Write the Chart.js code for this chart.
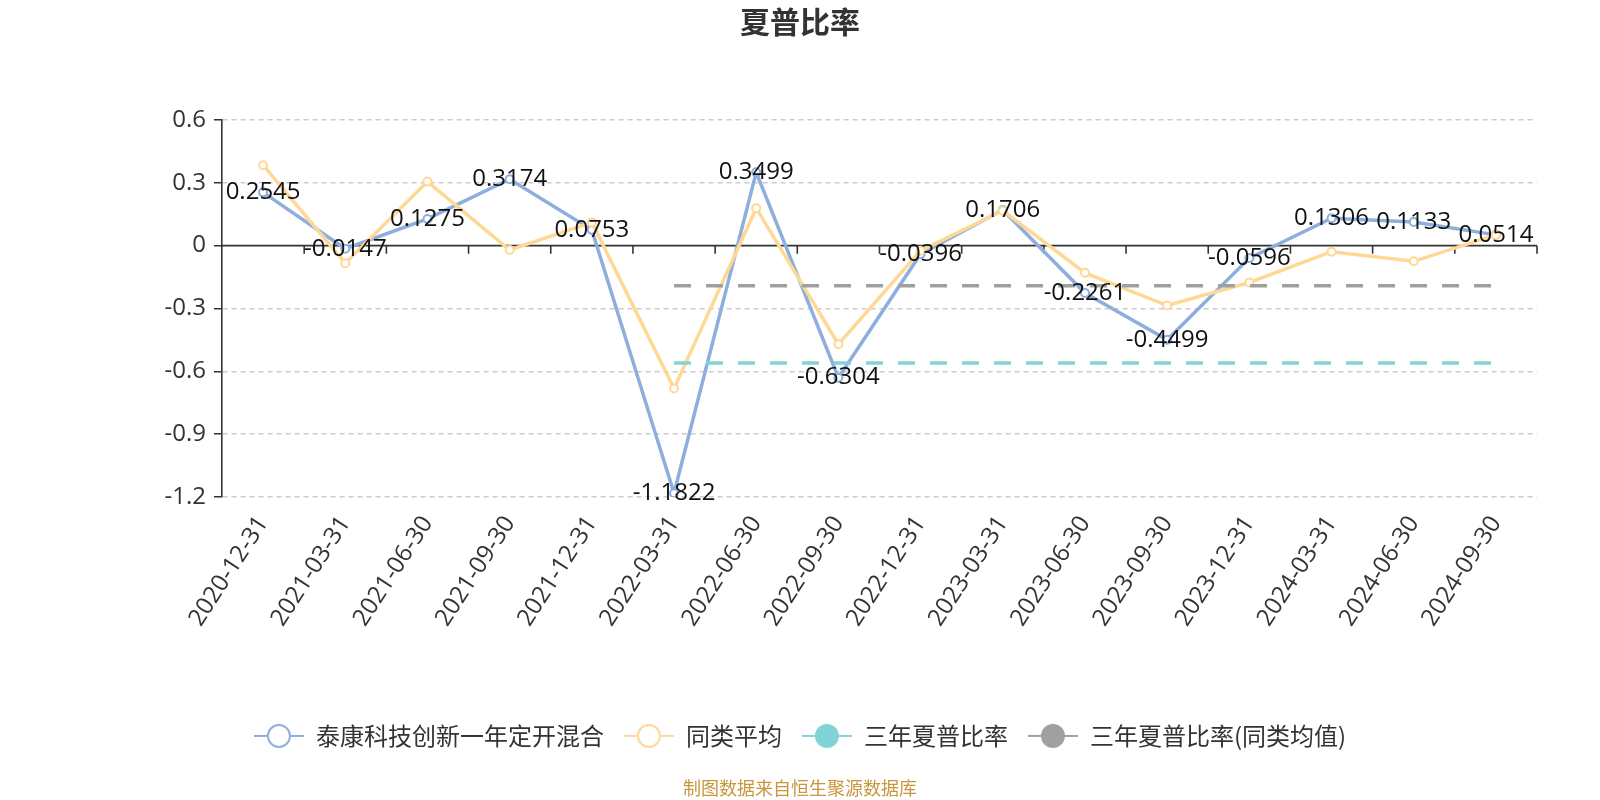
<!DOCTYPE html>
<html>
<head>
<meta charset="utf-8">
<script src="https://cdn.jsdelivr.net/npm/chart.js@4.4.0/dist/chart.umd.min.js"></script>
<style>
html,body{margin:0;padding:0;background:#fff;}
#wrap{width:1600px;height:800px;}
</style>
</head>
<body>
<div id="wrap"><canvas id="c" width="1600" height="800"></canvas></div>
<script>
// ---- data ----
const categories = ['2020-12-31','2021-03-31','2021-06-30','2021-09-30','2021-12-31','2022-03-31','2022-06-30','2022-09-30','2022-12-31','2023-03-31','2023-06-30','2023-09-30','2023-12-31','2024-03-31','2024-06-30','2024-09-30'];
const fundValues = [0.2545, -0.0147, 0.1275, 0.3174, 0.0753, -1.1822, 0.3499, -0.6304, -0.0396, 0.1706, -0.2261, -0.4499, -0.0596, 0.1306, 0.1133, 0.0514];
const peerValues = [0.384, -0.084, 0.306, -0.021, 0.111, -0.682, 0.179, -0.471, -0.024, 0.167, -0.130, -0.286, -0.176, -0.029, -0.075, 0.051];
const fund3YValues = [null, null, null, null, null, -0.56, -0.56, -0.56, -0.56, -0.56, -0.56, -0.56, -0.56, -0.56, -0.56, -0.56];
const peer3YValues = [null, null, null, null, null, -0.192, -0.192, -0.192, -0.192, -0.192, -0.192, -0.192, -0.192, -0.192, -0.192, -0.192];
const seriesNames = ['泰康科技创新一年定开混合', '同类平均', '三年夏普比率', '三年夏普比率(同类均值)'];
const yTickValues = [-1.2, -0.9, -0.6, -0.3, 0, 0.3, 0.6];
const yTickLabels = ['-1.2', '-0.9', '-0.6', '-0.3', '0', '0.3', '0.6'];
const titleText = '夏普比率';
const sourceText = '制图数据来自恒生聚源数据库';

// ---- styles ----
const FONT = "'Open Sans', 'Noto Sans CJK SC', sans-serif";
const CJK = "'Noto Sans CJK SC', sans-serif";
const colors = ['#8eaedd', '#ffd896', '#80d4d6', '#a0a0a0'];

function makeIcon(color, filled) {
  const c = document.createElement('canvas');
  c.width = 50; c.height = 26;
  const g = c.getContext('2d');
  g.strokeStyle = color; g.lineWidth = 2;
  g.beginPath(); g.moveTo(0, 13); g.lineTo(50, 13); g.stroke();
  g.beginPath(); g.arc(25, 13, 11, 0, Math.PI * 2);
  g.fillStyle = filled ? color : '#fff';
  g.fill(); g.stroke();
  return c;
}
const icons = [makeIcon(colors[0], false), makeIcon(colors[1], false), makeIcon(colors[2], true), makeIcon(colors[3], true)];

const zeroAxis = {
  id: 'zeroAxis',
  beforeDatasetsDraw(chart) {
    const {ctx, chartArea: a, scales: {x, y}} = chart;
    const y0 = y.getPixelForValue(0);
    const n = categories.length;
    ctx.save();
    ctx.strokeStyle = '#333';
    ctx.lineWidth = 1.6;
    ctx.beginPath();
    ctx.moveTo(a.left, y0); ctx.lineTo(a.right, y0);
    for (let i = 1; i <= n; i++) {
      const px = i === n ? a.right : (x.getPixelForValue(i - 1) + x.getPixelForValue(i)) / 2;
      ctx.moveTo(px, y0); ctx.lineTo(px, y0 + 8);
    }
    ctx.stroke();
    ctx.restore();
  }
};

const dataLabels = {
  id: 'dataLabels',
  afterDatasetsDraw(chart) {
    const ctx = chart.ctx;
    const meta = chart.getDatasetMeta(0);
    ctx.save();
    ctx.font = '24px ' + FONT;
    ctx.fillStyle = '#111';
    ctx.textAlign = 'center';
    ctx.textBaseline = 'middle';
    meta.data.forEach((pt, i) => {
      ctx.fillText(String(fundValues[i]), pt.x, pt.y);
    });
    ctx.restore();
  }
};

Chart.defaults.font.family = FONT;

new Chart(document.getElementById('c'), {
  type: 'line',
  data: {
    labels: categories,
    datasets: [
      { label: seriesNames[0], data: fundValues, borderColor: colors[0], backgroundColor: '#fff',
        borderWidth: 3.5, pointRadius: 4, pointBorderWidth: 2, pointBackgroundColor: '#fff', pointBorderColor: colors[0], tension: 0, order: 2 },
      { label: seriesNames[1], data: peerValues, borderColor: colors[1], backgroundColor: '#fff',
        borderWidth: 3.5, pointRadius: 4, pointBorderWidth: 2, pointBackgroundColor: '#fff', pointBorderColor: colors[1], tension: 0, order: 1 },
      { label: seriesNames[2], data: fund3YValues, borderColor: colors[2], backgroundColor: colors[2],
        borderWidth: 3.5, borderDash: [17, 15], pointRadius: 0, spanGaps: false, order: 0 },
      { label: seriesNames[3], data: peer3YValues, borderColor: colors[3], backgroundColor: colors[3],
        borderWidth: 3.5, borderDash: [17, 15], pointRadius: 0, spanGaps: false, order: 0 }
    ]
  },
  options: {
    responsive: false,
    animation: false,
    layout: { padding: { left: 63, right: 63, top: 0, bottom: 0 } },
    scales: {
      x: {
        type: 'category',
        offset: true,
        grid: { display: false },
        border: { display: false },
        ticks: { color: '#333', font: { size: 24, family: FONT }, minRotation: 57, maxRotation: 57, autoSkip: false, padding: 6 },
        afterFit: s => { s.height = 207; }
      },
      y: {
        min: -1.2, max: 0.6,
        afterBuildTicks: s => { s.ticks = yTickValues.map(v => ({ value: v })); },
        ticks: { color: '#333', font: { size: 24, family: FONT }, padding: 8, callback: (v, i) => yTickLabels[i] },
        grid: {
          color: c => (c.tick && c.tick.value === 0) ? 'rgba(0,0,0,0)' : '#cccccc',
          lineWidth: 1.5, tickColor: '#333', tickLength: 8, tickWidth: 1.5
        },
        border: { display: true, color: '#333', width: 1.6, dash: [5, 4] },
        afterFit: s => { s.width = 159; }
      }
    },
    plugins: {
      tooltip: { enabled: false },
      title: { display: true, text: titleText, color: '#333', font: { size: 30, weight: 'bold', family: CJK }, padding: { top: 4, bottom: 80 } },
      subtitle: { display: true, position: 'bottom', text: sourceText, color: '#c8963c', font: { size: 18, family: CJK }, padding: { top: 19, bottom: 1.5 } },
      legend: {
        position: 'bottom',
        labels: {
          usePointStyle: true, pointStyleWidth: 50, boxHeight: 24, padding: 20,
          color: '#333', font: { size: 24, family: CJK },
          sort: (a, b) => a.datasetIndex - b.datasetIndex,
          generateLabels: chart => {
            const items = Chart.defaults.plugins.legend.labels.generateLabels(chart);
            items.forEach(it => { it.pointStyle = icons[it.datasetIndex]; });
            return items;
          }
        }
      }
    }
  },
  plugins: [zeroAxis, dataLabels]
});
</script>
</body>
</html>
